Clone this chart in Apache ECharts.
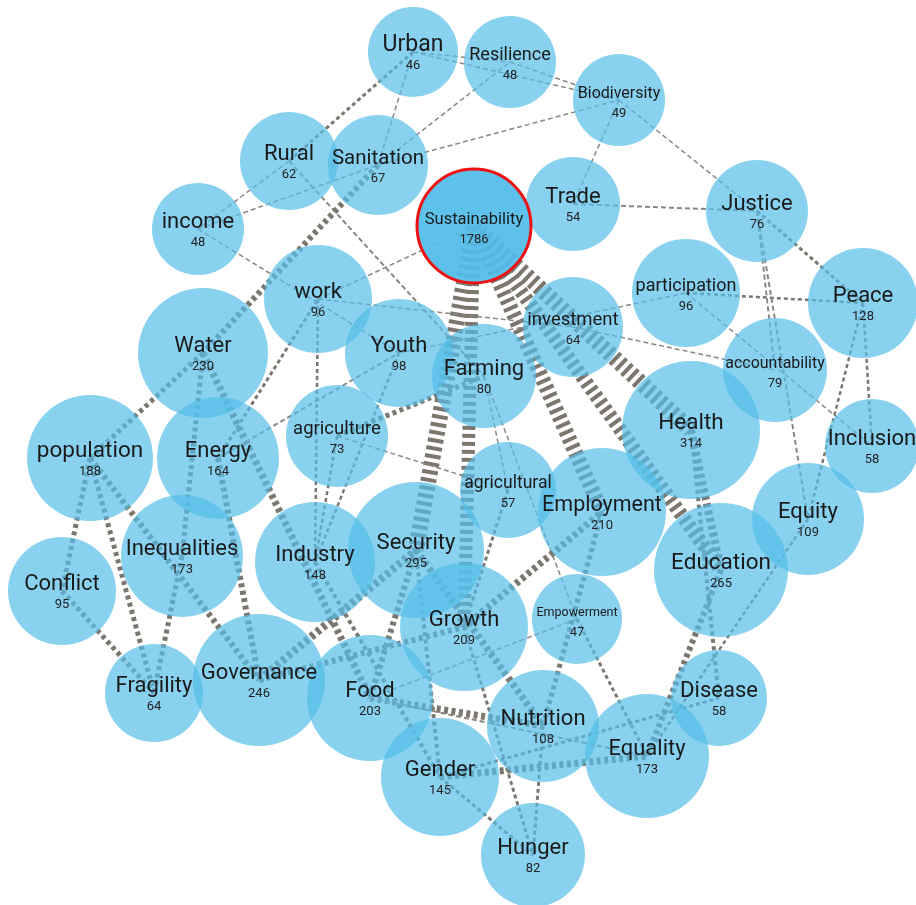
<!DOCTYPE html>
<html><head><meta charset="utf-8">
<style>html,body{margin:0;padding:0;background:#fff}#c{width:916px;height:905px}</style>
<script src="https://cdn.jsdelivr.net/npm/echarts@6/dist/echarts.min.js"></script>
</head><body><div id="c"></div>
<script>
// ---- data ----
const names = ['Urban','Resilience','Biodiversity','Rural','Sanitation','income','Trade','Justice','work','participation','Peace','investment','Water','Youth','Farming','accountability','Health','Inclusion','population','Energy','agriculture','agricultural','Employment','Equity','Conflict','Inequalities','Industry','Security','Education','Growth','Empowerment','Fragility','Governance','Food','Disease','Nutrition','Equality','Gender','Hunger','Sustainability'];
const counts = [46,48,49,62,67,48,54,76,96,96,128,64,230,98,80,79,314,58,188,164,73,57,210,109,95,173,148,295,265,209,47,64,246,203,58,108,173,145,82,1786];
const linkSource = ['Sustainability','Sustainability','Sustainability','Sustainability','Sustainability','Sustainability',
 'Urban','Urban','Resilience','Urban','Urban','Sanitation','Sanitation','Biodiversity','Biodiversity','Trade',
 'Rural','income','Rural','Sanitation','income','Water','Water','Water','Energy','Energy','Energy',
 'population','population','population','Conflict','Inequalities','work','agriculture','Youth','agriculture','agriculture',
 'Farming','Farming','Empowerment','agricultural','work','Youth','investment','participation','participation',
 'Justice','Justice','Justice','Peace','Peace','Governance','Governance','Industry','Security','Security','Security',
 'Food','Food','Food','Growth','Growth','Employment','Gender','Gender','Nutrition','Gender','Education','Health','Health','Equity'];
const linkTarget = ['Security','Growth','Employment','Health','Education','work',
 'Resilience','Biodiversity','Biodiversity','Rural','Sanitation','Resilience','Biodiversity','Trade','Justice','Justice',
 'income','Sanitation','Farming','Water','Youth','population','Inequalities','Food','work','Youth','Governance',
 'Conflict','Fragility','Governance','Fragility','Fragility','Industry','Industry','Industry','Farming','agricultural',
 'agricultural','Empowerment','Equality','Growth','investment','participation','accountability','Peace','Inclusion',
 'Peace','accountability','Equity','Inclusion','Equity','Security','Growth','Gender','Food','Nutrition','Gender',
 'Nutrition','Empowerment','Equality','Employment','Hunger','Nutrition','Equality','Disease','Hunger','Hunger','Equality','Disease','Education','Equality'];
const linkWeight = [16,13,15,16,14,1.5,
 1.5,1.5,1.5,3,1.5,1.5,1.5,1.5,1.5,2,
 1.5,1.5,2,6,1.5,5,5,7,3,2,6,
 5,5,6,5,5,2.5,2.5,2.5,5,1.5,
 1.5,1.5,3,3,1.5,1.5,1.5,2.5,1.5,
 3,2,2,2.5,2.5,8,6,4,6,7,4,
 7,1.5,2,7,3,5,7,3,3,3,6,4,8,2.5];

// ---- layout (node centre x, y, radius, label size) ----
const layout = [[413,52,45,23],[510,62,46,18],[619,100,46,16],[289,161,49,22],[378,165,50,20.5],[198,229,46,22],[573,204,47,22],[757,211,51,22],[318,299,54,22],[686,293,54,18],[863,303,55,22],[573,327,50,18.5],[203,353,65,22],[399,353,54,22],[484,376,52,22],[775,370,52,16],[691,430,69,22.5],[872,446,47,22],[90,458,63,22.5],[218,458,61,22],[337,436,51,18.5],[508,490,48,17.5],[602,512,64,21.5],[808,519,56,22],[62,591,54,22],[182,556,61,22],[315,562,60,22],[416,550,68,22],[721,570,67,22.5],[464,627,64,22],[577,619,45,12.5],[154,693,49,22],[259,680,66,22],[370,698,63,22],[719,698,48,22],[543,726,56,22],[647,756,62,22],[440,777,59,22],[533,855,52,22],[474,226,57,16.5]];

const nodes = names.map((n, i) => {
  const [x, y, r, fs] = layout[i];
  const main = n === 'Sustainability';
  return {
    name: n,
    value: [x, y],
    symbolSize: r * 2,
    itemStyle: main ? {color: 'rgba(82,188,233,0.93)', borderColor: '#ee1111', borderWidth: 3}
                    : {color: 'rgba(86,189,232,0.7)'},
    label: {
      show: true, position: 'inside',
      formatter: '{n|' + n + '}\n{v|' + counts[i] + '}',
      rich: {
        n: {fontFamily: 'Roboto', fontSize: fs, lineHeight: 28, color: '#1a1a1a', align: 'center'},
        v: {fontFamily: 'Roboto', fontSize: 13, lineHeight: 13, color: '#222', align: 'center'}
      }
    }
  };
});

function dash(w) {
  if (w >= 9) return [4, 4];
  if (w >= 4) return [4, 3.5];
  if (w >= 2.5) return [4, 3];
  return [5, 3];
}
const links = linkSource.map((s, i) => ({
  source: s, target: linkTarget[i],
  lineStyle: {width: linkWeight[i], type: dash(linkWeight[i]), color: linkWeight[i] >= 2.5 ? '#7b776e' : '#8a8782', opacity: 1, curveness: 0}
}));

const chart = echarts.init(document.getElementById('c'), null, {renderer: 'canvas'});
chart.setOption({
  backgroundColor: '#fff',
  animation: false,
  grid: {left: 0, right: 0, top: 0, bottom: 0},
  xAxis: {type: 'value', min: 0, max: 916, show: false},
  yAxis: {type: 'value', min: 0, max: 905, inverse: true, show: false},
  series: [{
    type: 'graph',
    coordinateSystem: 'cartesian2d',
    layout: 'none',
    symbol: 'circle',
    data: nodes,
    links: links,
    emphasis: {disabled: true},
    lineStyle: {color: '#7d7a72'}
  }]
});
</script>
</body></html>
